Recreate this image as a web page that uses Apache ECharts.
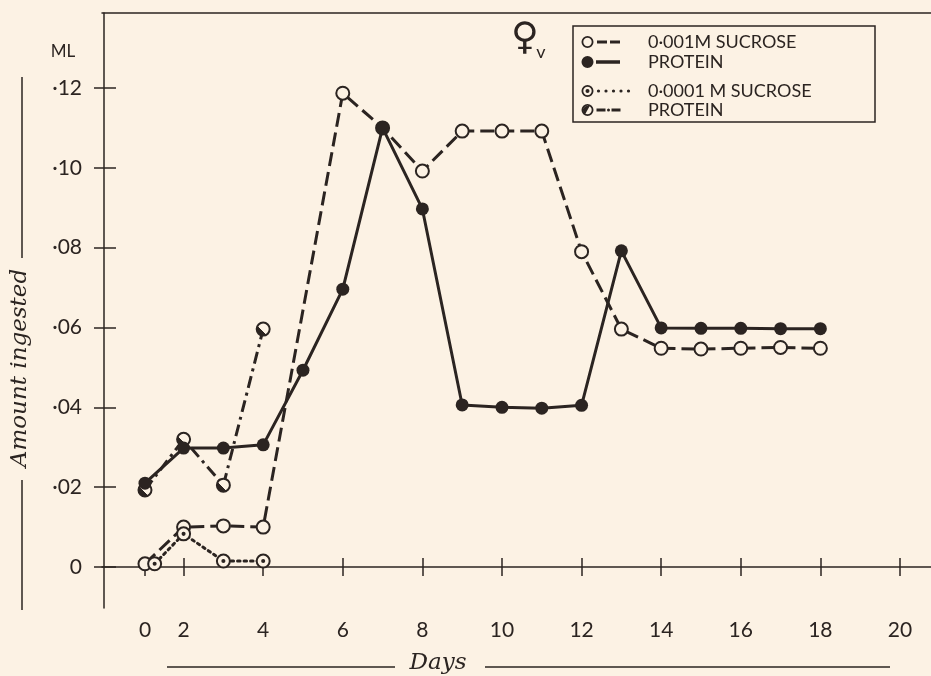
<!DOCTYPE html>
<html>
<head>
<meta charset="utf-8">
<script src="https://cdn.jsdelivr.net/npm/echarts@6/dist/echarts.min.js"></script>
<style>
html,body{margin:0;padding:0;background:#fcf2e4;}
#chart{width:931px;height:676px;}
</style>
</head>
<body>
<div id="chart"></div>
<script>
// ---- data ----
const sucrose001Days = [0, 2, 3, 4, 6, 7, 8, 9, 10, 11, 12, 13, 14, 15, 16, 17, 18];
const sucrose001 = [0.0008, 0.0100, 0.0103, 0.0100, 0.1187, 0.1100, 0.0992, 0.1092, 0.1092, 0.1092, 0.0790, 0.0596, 0.0548, 0.0546, 0.0548, 0.0550, 0.0548];

const protein001Days = [0, 2, 3, 4, 5, 6, 7, 8, 9, 10, 11, 12, 13, 14, 15, 16, 17, 18];
const protein001 = [0.0210, 0.0298, 0.0298, 0.0306, 0.0493, 0.0696, 0.1100, 0.0897, 0.0406, 0.0400, 0.0398, 0.0405, 0.0792, 0.0599, 0.0598, 0.0598, 0.0597, 0.0597];

const sucrose0001Days = [0.5, 2, 3, 4];
const sucrose0001 = [0.0008, 0.0083, 0.0015, 0.0015];

const protein0001Days = [0, 2, 3, 4];
const protein0001 = [0.0193, 0.0320, 0.0205, 0.0596];

const xTickDays = [0, 2, 4, 6, 8, 10, 12, 14, 16, 18, 20];
const xTickLabels = ['0', '2', '4', '6', '8', '10', '12', '14', '16', '18', '20'];
const yTickValues = [0, 0.02, 0.04, 0.06, 0.08, 0.10, 0.12];
const yTickLabels = ['0', '·02', '·04', '·06', '·08', '·10', '·12'];

const seriesNames = ['0·001M SUCROSE', 'PROTEIN', '0·0001 M SUCROSE', 'PROTEIN\u00a0'];

// ---- scale: the day axis is compressed between 0 and 2 ----
const day0Pos = 1.03;
function dayPos(d) { return d < 2 ? day0Pos + d * (2 - day0Pos) / 2 : d; }
function pairs(days, vals) { return days.map((d, i) => [dayPos(d), vals[i]]); }

const bg = '#fcf2e4';
const ink = '#2b2421';
const xMin = -0.05, xMax = 20.78;
const yMin = -0.01027, yMax = 0.13879;
const xTickPos = xTickDays.map(dayPos);

// ---- legend icon paths (box 620 x 130) ----
function circ(cx, cy, r, cw) {
  const s = cw ? 1 : 0;
  return `M${cx - r} ${cy} A${r} ${r} 0 1 ${s} ${cx + r} ${cy} A${r} ${r} 0 1 ${s} ${cx - r} ${cy} Z `;
}
function rect(x0, x1, y0, y1) { return `M${x0} ${y0} L${x1} ${y0} L${x1} ${y1} L${x0} ${y1} Z `; }
const pin = 'M0 0 L0 0 M620 130 L620 130 ';
const ring = circ(65, 65, 60, true) + `M107 65 A42 42 0 1 0 23 65 A42 42 0 1 0 107 65 Z `;
const iconOpenDash = 'path://' + pin + ring + rect(160, 260, 50, 80) + rect(290, 390, 50, 80);
const iconFilledSolid = 'path://' + pin + circ(65, 65, 60, true) + rect(150, 390, 48, 82);
const iconDotted = 'path://' + pin + ring + circ(65, 65, 20, true) +
  [175, 250, 325, 400, 475].map(x => circ(x, 65, 16, true)).join('');
const iconHalfDashDot = 'path://' + pin + ring + 'M86 28.6 A42 42 0 0 0 44 101.4 Z ' +
  rect(155, 245, 50, 80) + circ(275, 65, 15, true) + rect(305, 395, 50, 80);

const bullseye = 'path://' + circ(50, 50, 50, true) + circ(50, 50, 8, true);

const chart = echarts.init(document.getElementById('chart'), null, { renderer: 'canvas' });

const tickStyle = { color: ink, width: 1.5 };
const lab = { color: ink, fontFamily: 'Lato', fontSize: 21 };
const legText = { color: ink, fontFamily: 'Lato', fontSize: 18, lineHeight: 18 };

chart.setOption({
  backgroundColor: bg,
  animation: false,
  grid: { left: 102, right: 0, top: 13, bottom: 68, containLabel: false },
  xAxis: [
    {
      type: 'value', min: xMin, max: xMax, position: 'bottom',
      axisLine: { show: true, lineStyle: tickStyle },
      axisTick: { show: true, inside: false, length: 9, customValues: xTickPos, lineStyle: tickStyle },
      axisLabel: {
        show: true, customValues: xTickPos, margin: 12, ...lab,
        formatter: v => {
          let best = 0;
          xTickPos.forEach((p, i) => { if (Math.abs(p - v) < Math.abs(xTickPos[best] - v)) best = i; });
          return xTickLabels[best];
        }
      },
      splitLine: { show: false }
    },
    {
      type: 'value', min: xMin, max: xMax, position: 'bottom',
      axisLine: { show: false },
      axisTick: { show: true, inside: true, length: 9, customValues: xTickPos, lineStyle: tickStyle },
      axisLabel: { show: false }, splitLine: { show: false }
    },
    {
      type: 'value', min: xMin, max: xMax, position: 'top',
      axisLine: { show: true, lineStyle: tickStyle },
      axisTick: { show: false }, axisLabel: { show: false }, splitLine: { show: false }
    }
  ],
  yAxis: [
    {
      type: 'value', min: yMin, max: yMax, position: 'left',
      axisLine: { show: true, lineStyle: tickStyle },
      axisTick: { show: true, inside: false, length: 10, customValues: yTickValues, lineStyle: tickStyle },
      axisLabel: {
        show: true, customValues: yTickValues, margin: 20, ...lab,
        formatter: v => {
          let best = 0;
          yTickValues.forEach((p, i) => { if (Math.abs(p - v) < Math.abs(yTickValues[best] - v)) best = i; });
          return yTickLabels[best];
        }
      },
      splitLine: { show: false }
    },
    {
      type: 'value', min: yMin, max: yMax, position: 'left',
      axisLine: { show: false },
      axisTick: { show: true, inside: true, length: 12, customValues: yTickValues, lineStyle: tickStyle },
      axisLabel: { show: false }, splitLine: { show: false }
    }
  ],
  legend: [
    {
      orient: 'vertical', left: 581, top: 33, padding: 0, itemGap: 2,
      itemWidth: 62, itemHeight: 13, selectedMode: false,
      textStyle: legText,
      data: [
        { name: seriesNames[0], icon: iconOpenDash, itemStyle: { color: ink, borderWidth: 0 } },
        { name: seriesNames[1], icon: iconFilledSolid, itemStyle: { color: ink, borderWidth: 0 } }
      ]
    },
    {
      orient: 'vertical', left: 581, top: 82, padding: 0, itemGap: 1,
      itemWidth: 62, itemHeight: 13, selectedMode: false,
      textStyle: legText,
      data: [
        { name: seriesNames[2], icon: iconDotted, itemStyle: { color: ink, borderWidth: 0 } },
        { name: seriesNames[3], icon: iconHalfDashDot, itemStyle: { color: ink, borderWidth: 0 } }
      ]
    }
  ],
  series: [
    {
      name: seriesNames[0], type: 'line', data: pairs(sucrose001Days, sucrose001),
      symbol: 'circle', symbolSize: 13,
      lineStyle: { color: ink, width: 3, type: [14, 6] },
      itemStyle: { color: bg, borderColor: ink, borderWidth: 2 }
    },
    {
      name: seriesNames[2], type: 'line', data: pairs(sucrose0001Days, sucrose0001),
      symbol: bullseye, symbolSize: 13,
      lineStyle: { color: ink, width: 3, type: [2.5, 4], cap: 'round' },
      itemStyle: { color: bg, borderColor: ink, borderWidth: 2 }
    },
    {
      name: seriesNames[3], type: 'line', data: pairs(protein0001Days, protein0001),
      symbol: 'circle', symbolSize: 13,
      lineStyle: { color: ink, width: 3, type: [12, 5, 3, 5] },
      itemStyle: {
        color: {
          type: 'linear', x: 0, y: 1, x2: 0.8, y2: 0.2,
          colorStops: [
            { offset: 0, color: ink }, { offset: 0.5, color: ink },
            { offset: 0.5, color: bg }, { offset: 1, color: bg }
          ]
        },
        borderColor: ink, borderWidth: 2
      }
    },
    {
      name: seriesNames[1], type: 'line', data: pairs(protein001Days, protein001),
      symbol: 'circle', symbolSize: 13,
      lineStyle: { color: ink, width: 3 },
      itemStyle: { color: ink, borderWidth: 0 }
    }
  ],
  graphic: [
    { type: 'rect', shape: { x: 573, y: 26, width: 302, height: 96 }, style: { fill: 'none', stroke: ink, lineWidth: 1.5 }, z: 1 },
    { type: 'text', x: 525, y: 39, style: { text: '♀', font: '38px "DejaVu Sans"', fill: ink, align: 'center', verticalAlign: 'middle' } },
    { type: 'text', x: 541, y: 52, style: { text: 'v', font: '18px Lato', fill: ink, align: 'center', verticalAlign: 'middle' } },
    { type: 'text', x: 63, y: 52, style: { text: 'ML', font: '17px Lato', fill: ink, align: 'center', verticalAlign: 'middle' } },
    { type: 'line', shape: { x1: 22, y1: 77, x2: 22, y2: 258 }, style: { stroke: ink, lineWidth: 1.5 } },
    { type: 'line', shape: { x1: 22, y1: 480, x2: 22, y2: 610 }, style: { stroke: ink, lineWidth: 1.5 } },
    { type: 'text', x: 20, y: 368, rotation: Math.PI / 2, style: { text: 'Amount ingested', font: 'italic 23px "DejaVu Serif"', fill: ink, align: 'center', verticalAlign: 'middle' } },
    { type: 'line', shape: { x1: 167, y1: 667, x2: 395, y2: 667 }, style: { stroke: ink, lineWidth: 1.5 } },
    { type: 'line', shape: { x1: 485, y1: 667, x2: 890, y2: 667 }, style: { stroke: ink, lineWidth: 1.5 } },
    { type: 'text', x: 438, y: 663, style: { text: 'Days', font: 'italic 23px "DejaVu Serif"', fill: ink, align: 'center', verticalAlign: 'middle' } }
  ]
});
</script>
</body>
</html>
